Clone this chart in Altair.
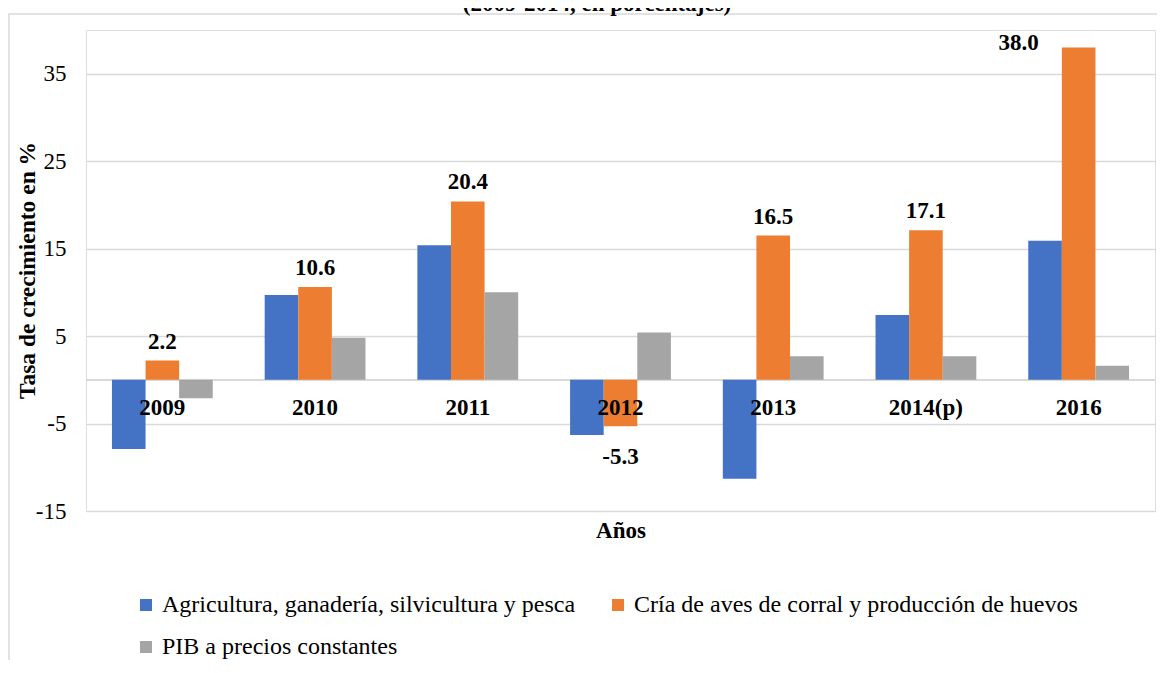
import altair as alt
import pandas as pd

years = ["2009", "2010", "2011", "2012", "2013", "2014(p)", "2016"]
series = [
    "Agricultura, ganadería, silvicultura y pesca",
    "Cría de aves de corral y producción de huevos",
    "PIB a precios constantes",
]
agri = [-7.9, 9.7, 15.4, -6.3, -11.3, 7.4, 15.9]
aves = [2.2, 10.6, 20.4, -5.3, 16.5, 17.1, 38.0]
pib = [-2.1, 4.8, 10.0, 5.4, 2.7, 2.7, 1.6]
colors = ["#4472C4", "#ED7D31", "#A5A5A5"]
y_ticks = [-15, -5, 5, 15, 25, 35]
title_text = "(2009-2014, en porcentajes)"

rows = []
for s, vals in zip(series, [agri, aves, pib]):
    for yr, v in zip(years, vals):
        rows.append({"year": yr, "serie": s, "valor": v, "order": series.index(s)})
df = pd.DataFrame(rows)

FONT = "Times New Roman, Liberation Serif, serif"
GRID = "#d9d9d9"
FS = 23

x_enc = alt.X(
    "year:N",
    sort=years,
    scale=alt.Scale(paddingInner=0.34, paddingOuter=0.17),
    axis=alt.Axis(
        labels=False, ticks=False, domain=False, grid=False,
        title="Años", titleFont=FONT, titleFontSize=FS, titleFontWeight="bold",
        titleColor="black", titlePadding=8,
    ),
)
y_scale = alt.Scale(domain=[-15, 40], nice=False, zero=False)

base = alt.Chart(df)

zero_rule = base.mark_rule(color=GRID, strokeWidth=1.5).encode(y=alt.datum(0, scale=y_scale))

bars = base.mark_bar().encode(
    x=x_enc,
    xOffset=alt.XOffset("serie:N", sort=series, scale=alt.Scale(paddingInner=0, paddingOuter=0)),
    y=alt.Y(
        "valor:Q",
        scale=y_scale,
        axis=alt.Axis(
            values=y_ticks, grid=True, gridColor=GRID, gridWidth=1.5,
            ticks=False, domain=False, labelExpr="toString(datum.value)",
            labelFont=FONT, labelFontSize=FS, labelColor="black", labelPadding=20,
            title="Tasa de crecimiento en %", titleFont=FONT, titleFontSize=23.5,
            titleFontWeight="bold", titleColor="black",
            titleAngle=270, titleAlign="center", titleBaseline="middle",
            titleX=-59, titleY=240,
        ),
    ),
    color=alt.Color(
        "serie:N",
        sort=series,
        scale=alt.Scale(domain=series, range=colors),
        legend=alt.Legend(
            title=None, orient="none", legendX=48, legendY=563,
            direction="horizontal", columns=2,
            symbolType="square", symbolSize=144, symbolStrokeWidth=0,
            labelFont=FONT, labelFontSize=24, labelColor="black",
            labelLimit=800, labelOffset=4, columnPadding=30, rowPadding=18,
        ),
    ),
)

cat_labels = base.transform_filter(alt.datum.order == 0).mark_text(
    font=FONT, fontSize=FS, fontWeight="bold", color="black", baseline="middle", dy=28
).encode(x=alt.X("year:N", sort=years), y=alt.datum(0), text="year:N")

orange = base.transform_filter(alt.datum.order == 1).transform_calculate(
    lab="replace(format(datum.valor, '.1f'), '\u2212', '-')"
)
txt = dict(font=FONT, fontSize=FS, fontWeight="bold", color="black", baseline="middle")
enc = dict(x=alt.X("year:N", sort=years), y="valor:Q", text="lab:N")
lab_pos = orange.transform_filter("datum.valor > 0 && datum.year != '2016'").mark_text(
    dy=-19, **txt).encode(**enc)
lab_neg = orange.transform_filter("datum.valor < 0").mark_text(dy=31, **txt).encode(**enc)
lab_2016 = orange.transform_filter("datum.year == '2016'").mark_text(
    dx=-60, dy=-4, **txt).encode(**enc)

one = alt.Chart(pd.DataFrame({"t": [title_text]}))
border = one.mark_rect(
    filled=False, stroke=GRID, strokeWidth=1.5
).encode(x=alt.value(-77), x2=alt.value(1300), y=alt.value(-16), y2=alt.value(900))
title_mark = one.mark_text(
    font=FONT, fontSize=23, fontWeight="bold", color="black", baseline="alphabetic", align="center"
).encode(x=alt.value(511), y=alt.value(-19), text="t:N")

chart = alt.layer(border, title_mark, zero_rule, bars, cat_labels, lab_pos, lab_neg, lab_2016).properties(
    width=1069,
    height=481,
    autosize=alt.AutoSizeParams(type="none"),
    padding={"left": 78, "top": 22, "right": 2, "bottom": 149},
).configure_view(stroke=None).configure(background="white")

chart.save("out.html", embed_options={"renderer": "svg", "actions": False})
